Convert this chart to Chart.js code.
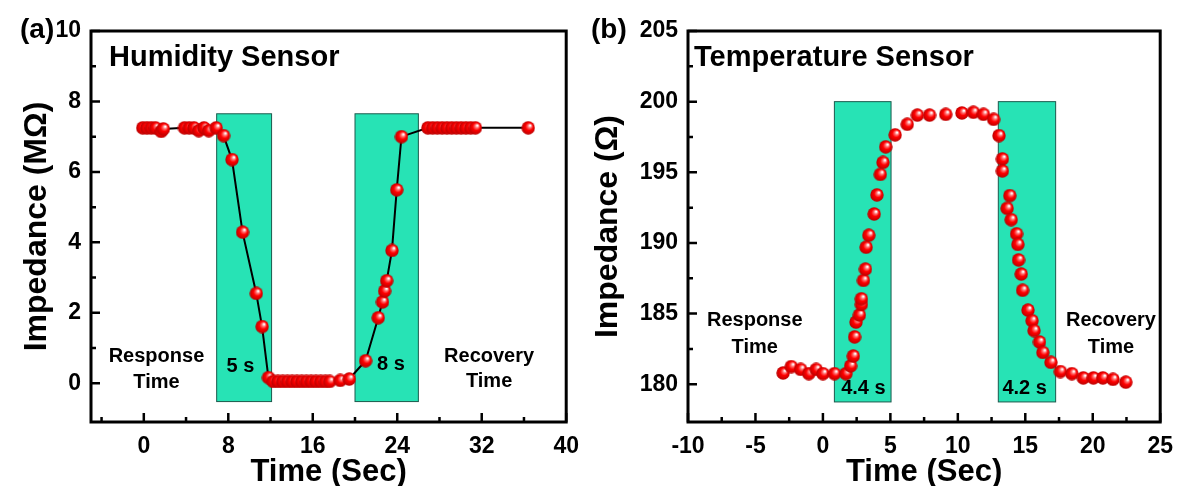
<!DOCTYPE html>
<html>
<head>
<meta charset="utf-8">
<script src="https://cdn.jsdelivr.net/npm/chart.js@4.4.0/dist/chart.umd.min.js"></script>
<style>
html, body { margin: 0; padding: 0; background: #fff; }
#wrap { position: relative; width: 1184px; height: 486px; overflow: hidden; }
#wrap canvas { position: absolute; top: 0; }
</style>
</head>
<body>
<div id="wrap">
    <canvas id="humChart" width="590" height="486" style="left:0"></canvas>
    <canvas id="tempChart" width="594" height="486" style="left:590px"></canvas>
</div>
<script>
// (a) Humidity sensor
const humTime = [-0.1, 0.3, 0.7, 1.1, 1.65, 1.85, 3.85, 4.3, 4.75, 5.2, 5.7, 6.15, 6.85,
    7.55, 8.35, 9.35, 10.65, 11.2, 11.8,
    12.25, 12.7, 13.15, 13.6, 14.05, 14.5, 14.95, 15.4, 15.85, 16.3, 16.75, 17.2, 17.6,
    18.6, 19.45,
    21.0, 22.2, 22.6, 22.8, 23.0, 23.5, 23.95, 24.4,
    26.9, 27.35, 27.8, 28.25, 28.7, 29.15, 29.6, 30.05, 30.5, 30.95, 31.4,
    36.4];
const humImp = [7.25, 7.25, 7.25, 7.25, 7.15, 7.22, 7.25, 7.25, 7.25, 7.17, 7.25, 7.17, 7.25,
    7.03, 6.35, 4.29, 2.55, 1.61, 0.16,
    0.05, 0.05, 0.05, 0.05, 0.05, 0.05, 0.05, 0.05, 0.05, 0.05, 0.05, 0.05, 0.05,
    0.08, 0.12,
    0.64, 1.86, 2.31, 2.62, 2.91, 3.77, 5.49, 7.0,
    7.25, 7.25, 7.25, 7.25, 7.25, 7.25, 7.25, 7.25, 7.25, 7.25, 7.25,
    7.25];
const humXMajor = [0, 8, 16, 24, 32, 40];
const humXMinor = [-4, 4, 12, 20, 28, 36];
const humYMajor = [0, 2, 4, 6, 8, 10];
const humYMinor = [1, 3, 5, 7, 9];
const humWinStart = [6.9, 20.0];
const humWinEnd = [12.1, 26.0];
const humWinLow = -0.52;
const humWinHigh = 7.65;
const humNotes = ['Response', 'Time', '5 s', '8 s', 'Recovery', 'Time'];
const humNoteX = [1.2, 1.2, 9.15, 23.4, 32.7, 32.7];
const humNoteY = [0.76, 0.02, 0.48, 0.52, 0.76, 0.05];

// (b) Temperature sensor
const tempTime = [-2.95, -2.35, -1.65, -1.05, -0.5, 0.0, 0.85, 1.7, 2.05, 2.25, 2.35, 2.45,
    2.7, 2.85, 2.85, 3.0, 3.15, 3.2, 3.4, 3.8, 4.0, 4.25, 4.45, 4.65, 5.35, 6.25, 7.0,
    7.9, 9.1, 10.3, 11.15, 11.9, 12.65, 13.05, 13.3, 13.3, 13.85, 13.65, 13.95, 14.35,
    14.45, 14.5, 14.7, 14.8, 15.2, 15.5, 15.65, 16.05, 16.3, 16.9, 17.6, 18.45, 19.3,
    20.05, 20.75, 21.5, 22.45];
const tempImp = [180.8, 181.25, 181.05, 180.75, 181.05, 180.75, 180.75, 180.75, 181.3, 182.0, 183.35, 184.4,
    184.9, 185.65, 186.05, 187.35, 188.15, 189.7, 190.55, 192.05, 193.4, 194.85, 195.7, 196.8, 197.65, 198.4, 199.05,
    199.05, 199.1, 199.2, 199.25, 199.1, 198.75, 197.6, 195.95, 195.1, 193.35, 192.45, 191.65, 190.65,
    189.9, 188.8, 187.8, 186.65, 185.25, 184.5, 183.8, 183.0, 182.25, 181.55, 180.9, 180.75, 180.45,
    180.45, 180.45, 180.35, 180.15];
const tempXMajor = [-10, -5, 0, 5, 10, 15, 20, 25];
const tempXMinor = [-7.5, -2.5, 2.5, 7.5, 12.5, 17.5, 22.5];
const tempYMajor = [180, 185, 190, 195, 200, 205];
const tempYMinor = [182.5, 187.5, 192.5, 197.5, 202.5];
const tempWinStart = [0.85, 13.0];
const tempWinEnd = [5.05, 17.25];
const tempWinLow = 178.75;
const tempWinHigh = 200.0;
const tempNotes = ['Response', 'Time', '4.4 s', '4.2 s', 'Recovery', 'Time'];
const tempNoteX = [-5.05, -5.05, 3.0, 14.95, 21.35, 21.35];
const tempNoteY = [184.5, 182.6, 179.7, 179.7, 184.5, 182.6];

const FONT = "'Liberation Sans', Arial, sans-serif";

function makeSphere(d) {
    const c = document.createElement('canvas');
    c.width = d;
    c.height = d;
    const g = c.getContext('2d');
    const r = d / 2;
    const grad = g.createRadialGradient(r * 1.3, r * 0.65, r * 0.08, r, r, r);
    grad.addColorStop(0, '#ffffff');
    grad.addColorStop(0.22, '#ff7070');
    grad.addColorStop(0.5, '#ff0000');
    grad.addColorStop(1, '#b40000');
    g.fillStyle = grad;
    g.beginPath();
    g.arc(r, r, r - 0.3, 0, Math.PI * 2);
    g.fill();
    return c;
}
const sphere = makeSphere(14);

function toPoints(xs, ys) {
    return xs.map((x, i) => ({ x: x, y: ys[i] }));
}

// draws windows, notes, frame, inward ticks and labels
function makeDecor(cfg) {
    return {
        id: 'decor',
        beforeDatasetsDraw(chart) {
            const { ctx, scales: { x, y } } = chart;
            ctx.save();
            ctx.fillStyle = '#27e3b5';
            ctx.strokeStyle = '#1c5a4d';
            ctx.lineWidth = 1;
            cfg.winStart.forEach((s, i) => {
                const x0 = x.getPixelForValue(s);
                const x1 = x.getPixelForValue(cfg.winEnd[i]);
                const y0 = y.getPixelForValue(cfg.winHigh);
                const y1 = y.getPixelForValue(cfg.winLow);
                ctx.fillRect(x0, y0, x1 - x0, y1 - y0);
                ctx.strokeRect(x0, y0, x1 - x0, y1 - y0);
            });
            ctx.restore();
        },
        afterDatasetsDraw(chart) {
            const { ctx, scales: { x, y } } = chart;
            ctx.save();
            ctx.fillStyle = '#000';
            ctx.font = 'bold 20px ' + FONT;
            ctx.textAlign = 'center';
            ctx.textBaseline = 'middle';
            cfg.notes.forEach((t, i) => {
                ctx.fillText(t, x.getPixelForValue(cfg.noteX[i]), y.getPixelForValue(cfg.noteY[i]));
            });
            ctx.restore();
        },
        afterDraw(chart) {
            const { ctx, chartArea: a, scales: { x, y } } = chart;
            ctx.save();
            ctx.strokeStyle = '#000';
            ctx.lineWidth = 2.5;
            ctx.beginPath();
            x.ticks.forEach(t => {
                const px = x.getPixelForValue(t.value);
                const len = cfg.xMajor.includes(t.value) ? 9 : 5;
                ctx.moveTo(px, a.bottom);
                ctx.lineTo(px, a.bottom - len);
            });
            y.ticks.forEach(t => {
                const py = y.getPixelForValue(t.value);
                const len = cfg.yMajor.includes(t.value) ? 9 : 5;
                ctx.moveTo(a.left, py);
                ctx.lineTo(a.left + len, py);
            });
            ctx.stroke();
            ctx.lineWidth = 3;
            ctx.strokeRect(a.left, a.top, a.right - a.left, a.bottom - a.top);

            ctx.fillStyle = '#000';
            ctx.textBaseline = 'middle';
            ctx.textAlign = 'left';
            ctx.font = 'bold 29px ' + FONT;
            ctx.fillText(cfg.title, a.left + cfg.titleDx, a.top + 27);
            ctx.font = 'bold 28px ' + FONT;
            ctx.fillText(cfg.panel, cfg.panelX, 30);
            ctx.restore();
        }
    };
}

function makeScales(c) {
    const tickFont = { family: FONT, size: 23, weight: 'bold' };
    const titleFont = { family: FONT, size: 32, weight: 'bold', lineHeight: 1 };
    return {
        x: {
            type: 'linear',
            min: c.xMin,
            max: c.xMax,
            grid: { display: false, drawTicks: false },
            border: { display: false },
            afterBuildTicks: s => {
                s.ticks = c.xMajor.concat(c.xMinor).sort((p, q) => p - q).map(v => ({ value: v }));
            },
            afterFit: s => { s.height = 64; },
            ticks: {
                autoSkip: false,
                maxRotation: 0,
                padding: 11,
                color: '#000',
                font: tickFont,
                callback: v => c.xMajor.includes(v) ? String(v) : ''
            },
            title: {
                display: true,
                text: 'Time (Sec)',
                color: '#000',
                font: { family: FONT, size: 31, weight: 'bold', lineHeight: 0.9 },
                padding: { top: 0, bottom: 0 }
            }
        },
        y: {
            type: 'linear',
            min: c.yMin,
            max: c.yMax,
            grid: { display: false, drawTicks: false },
            border: { display: false },
            afterBuildTicks: s => {
                s.ticks = c.yMajor.concat(c.yMinor).sort((p, q) => p - q).map(v => ({ value: v }));
            },
            afterFit: s => { s.width = c.yWidth; },
            ticks: {
                autoSkip: false,
                padding: 10,
                color: '#000',
                font: tickFont,
                callback: v => c.yMajor.includes(v) ? String(v) : ''
            },
            title: {
                display: true,
                text: c.yTitle,
                color: '#000',
                font: titleFont,
                padding: { top: c.yTitlePad, bottom: 0 }
            }
        }
    };
}

new Chart(document.getElementById('humChart'), {
    type: 'scatter',
    data: {
        datasets: [{
            data: toPoints(humTime, humImp),
            showLine: true,
            borderColor: '#000',
            borderWidth: 2,
            pointStyle: sphere,
            pointRadius: 7,
            pointBorderWidth: 0
        }]
    },
    options: {
        responsive: false,
        animation: false,
        layout: { padding: { left: 0, right: 18, top: 31, bottom: 0 } },
        plugins: { legend: { display: false }, tooltip: { enabled: false } },
        scales: makeScales({
            xMin: -5, xMax: 40, xMajor: humXMajor, xMinor: humXMinor,
            yMin: -1.1, yMax: 10, yMajor: humYMajor, yMinor: humYMinor,
            yWidth: 91, yTitle: 'Impedance (M\u03A9)', yTitlePad: 21
        })
    },
    plugins: [makeDecor({
        winStart: humWinStart, winEnd: humWinEnd, winLow: humWinLow, winHigh: humWinHigh,
        notes: humNotes, noteX: humNoteX, noteY: humNoteY,
        xMajor: humXMajor, yMajor: humYMajor,
        title: 'Humidity Sensor', titleDx: 18, panel: '(a)', panelX: 20
    })]
});

new Chart(document.getElementById('tempChart'), {
    type: 'scatter',
    data: {
        datasets: [{
            data: toPoints(tempTime, tempImp),
            showLine: false,
            pointStyle: sphere,
            pointRadius: 7,
            pointBorderWidth: 0
        }]
    },
    options: {
        responsive: false,
        animation: false,
        layout: { padding: { left: 0, right: 15, top: 31, bottom: 0 } },
        plugins: { legend: { display: false }, tooltip: { enabled: false } },
        scales: makeScales({
            xMin: -10, xMax: 25, xMajor: tempXMajor, xMinor: tempXMinor,
            yMin: 177.33, yMax: 205, yMajor: tempYMajor, yMinor: tempYMinor,
            yWidth: 98, yTitle: 'Impedance (\u03A9)', yTitlePad: 2
        })
    },
    plugins: [makeDecor({
        winStart: tempWinStart, winEnd: tempWinEnd, winLow: tempWinLow, winHigh: tempWinHigh,
        notes: tempNotes, noteX: tempNoteX, noteY: tempNoteY,
        xMajor: tempXMajor, yMajor: tempYMajor,
        title: 'Temperature Sensor', titleDx: 6, panel: '(b)', panelX: 1
    })]
});
</script>
</body>
</html>
